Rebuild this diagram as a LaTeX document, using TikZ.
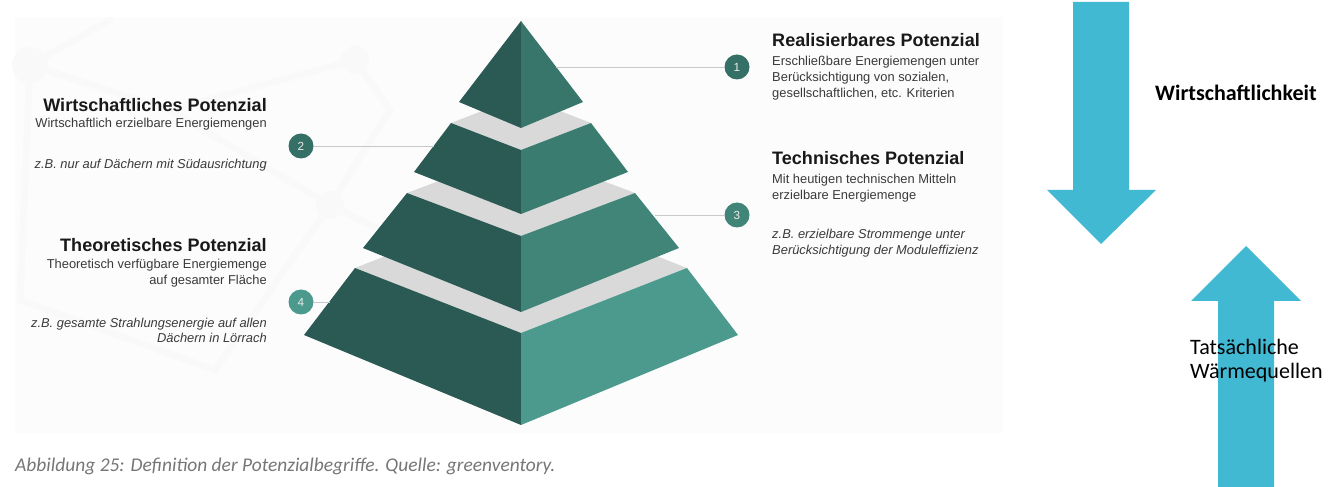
\documentclass[tikz,border=0pt]{standalone}
\usepackage{fontspec}
\setmainfont{Liberation Sans}
\newfontfamily\calibri{Carlito}

\definecolor{tiefgruen}{HTML}{2B5A54}
\definecolor{gruenA}{HTML}{38766B}
\definecolor{gruenB}{HTML}{3B7C71}
\definecolor{gruenC}{HTML}{418579}
\definecolor{gruenD}{HTML}{4C9A8E}
\definecolor{band}{HTML}{D9D9D9}
\definecolor{pfeil}{HTML}{42B9D3}
\definecolor{linie}{HTML}{C8C8C8}
\definecolor{textgrau}{HTML}{3A3A3A}
\definecolor{beschriftung}{HTML}{767676}

\tikzset{
  titel/.style={font=\bfseries\fontsize{15.4}{18}\selectfont, text=black!90, inner sep=0pt},
  info/.style={font=\fontsize{11}{13}\selectfont, text=textgrau, inner sep=0pt},
  bsp/.style={font=\itshape\fontsize{11}{13}\selectfont, text=textgrau, inner sep=0pt},
  nummer/.style={circle, minimum size=0.75cm, inner sep=0pt, text=white!85!gray,
    font=\fontsize{10}{11}\selectfont},
  netz/.style={black!2.5, line width=0.2cm, line cap=round}
}

\begin{document}
\begin{tikzpicture}[x=0.03cm,y=-0.03cm]
\useasboundingbox (0,0) rectangle (1335,487);

% heller Hintergrund mit Netz
\fill[black!1] (15,17) rectangle (1003,433);
\draw[netz] (110,20) -- (30,65) -- (170,110) -- (355,60) -- (390,110) -- (330,205) -- (215,370) -- (20,300) -- (30,65);
\draw[netz] (170,110) -- (330,205) -- (440,260);
\fill[black!2.5] (30,65) circle (18) (355,60) circle (14) (330,205) circle (14);

% Stufen von unten nach oben
\foreach \ty/\tf/\tw/\by/\bf/\bw/\farbe in
  {268/333/166/335/425/217/gruenD, 193/236/114/248/312/158/gruenC, 123/150/70/172/214/107/gruenB}{
  \fill[band] (521-\tw,\ty) -- (521,\tf) -- (521+\tw,\ty) -- (521,2*\ty-\tf) -- cycle;
  \fill[tiefgruen] (521-\tw,\ty) -- (521,\tf) -- (521,\bf) -- (521-\bw,\by) -- cycle;
  \fill[\farbe] (521,\tf) -- (521+\tw,\ty) -- (521+\bw,\by) -- (521,\bf) -- cycle;
}
% Spitze
\fill[tiefgruen] (521,21) -- (521,128) -- (459,102) -- cycle;
\fill[gruenA] (521,21) -- (583,102) -- (521,128) -- cycle;

% Nummern
\coordinate (s1) at (556,67);
\coordinate (s2) at (434,146);
\coordinate (s3) at (655,215);
\coordinate (s4) at (330,302);
\node[nummer, fill=gruenA!95!black] (n1) at (737,67) {1};
\node[nummer, fill=gruenA!95!black] (n2) at (301,146) {2};
\node[nummer, fill=gruenC] (n3) at (737,215) {3};
\node[nummer, fill=gruenD] (n4) at (301,302) {4};
\draw[linie] (n1) -- (s1);
\draw[linie] (n2) -- (s2);
\draw[linie] (n3) -- (s3);
\draw[linie] (n4) -- (s4);

% Texte links
\node[titel, anchor=base east] (wtitel) at (267,111.5) {Wirtschaftliches Potenzial};
\node[info, anchor=base east] (winfo) at (267,128) {Wirtschaftlich erzielbare Energiemengen};
\node[bsp, anchor=base east] (wbsp) at (267,169) {z.B. nur auf Dächern mit Südausrichtung};

\node[titel, anchor=base east] (ttitel) at (267,251.5) {Theoretisches Potenzial};
\node[info, anchor=base east] (tinfoa) at (267,268.5) {Theoretisch verfügbare Energiemenge};
\node[info, anchor=base east] (tinfob) at (267,284.5) {auf gesamter Fläche};
\node[bsp, anchor=base east] (tbspa) at (267,327.5) {z.B. gesamte Strahlungsenergie auf allen};
\node[bsp, anchor=base east] (tbspb) at (267,343) {Dächern in Lörrach};

% Texte rechts
\node[titel, anchor=base west] (rtitel) at (772,46.5) {Realisierbares Potenzial};
\node[info, anchor=base west] (rinfoa) at (772,66) {Erschließbare Energiemengen unter};
\node[info, anchor=base west] (rinfob) at (772,82) {Berücksichtigung von sozialen,};
\node[info, anchor=base west] (rinfoc) at (772,98) {gesellschaftlichen, etc. Kriterien};

\node[titel, anchor=base west] (ktitel) at (772,165) {Technisches Potenzial};
\node[info, anchor=base west] (kinfoa) at (772,184) {Mit heutigen technischen Mitteln};
\node[info, anchor=base west] (kinfob) at (772,200) {erzielbare Energiemenge};
\node[bsp, anchor=base west] (kbspa) at (772,238.5) {z.B. erzielbare Strommenge unter};
\node[bsp, anchor=base west] (kbspb) at (772,254.5) {Berücksichtigung der Moduleffizienz};

% Pfeile
\fill[pfeil] (1073,2) -- (1129,2) -- (1129,190) -- (1156,190) -- (1101,244) -- (1047,190) -- (1073,190) -- cycle;
\fill[pfeil] (1218,487) -- (1274,487) -- (1274,301) -- (1301,301) -- (1246,246) -- (1191,301) -- (1218,301) -- cycle;

\node[anchor=base west, inner sep=0pt, font=\calibri\bfseries\fontsize{18.8}{22}\selectfont] (wirt) at (1155,101) {Wirtschaftlichkeit};
\node[anchor=base west, inner sep=0pt, font=\calibri\fontsize{18.8}{22}\selectfont] (tats) at (1190,355) {Tatsächliche};
\node[anchor=base west, inner sep=0pt, font=\calibri\fontsize{18.8}{22}\selectfont] (waerme) at (1190,379) {Wärmequellen};

% Bildunterschrift
\node[anchor=base west, inner sep=0pt, text=beschriftung, font=\calibri\itshape\fontsize{16.6}{20}\selectfont] (abb) at (15,471.5)
  {Abbildung 25: Definition der Potenzialbegriffe. Quelle: greenventory.};
\end{tikzpicture}
\end{document}
